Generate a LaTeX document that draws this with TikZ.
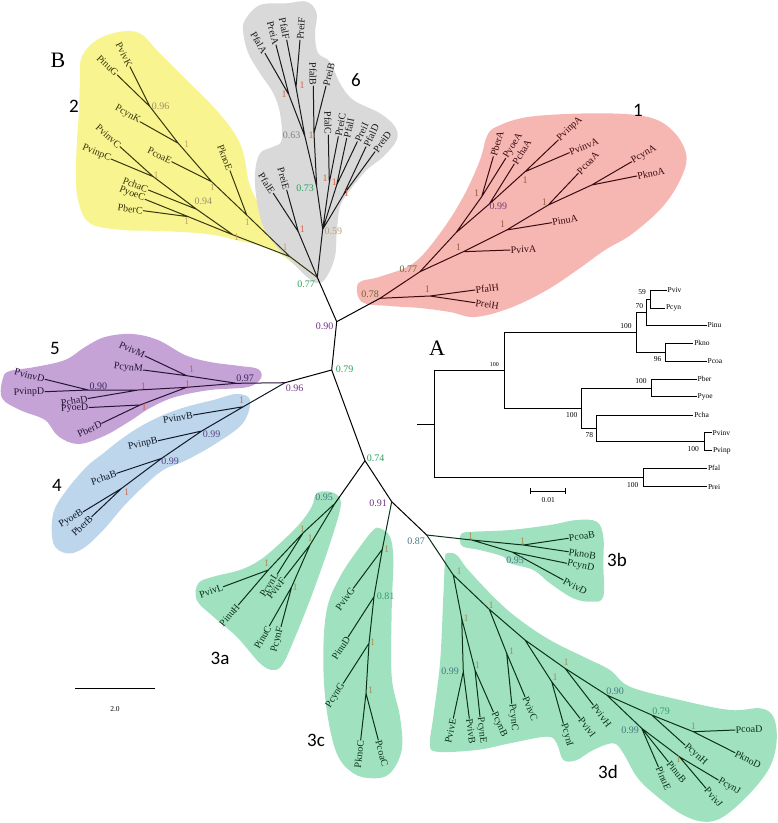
\documentclass[tikz,border=0pt]{standalone}
\usepackage{fontspec}
\setmainfont{Liberation Serif}
\newfontfamily\carl{Carlito}
\definecolor{yfill}{RGB}{248,245,145}
\definecolor{gfill}{RGB}{217,217,217}
\definecolor{rfill}{RGB}{246,183,179}
\definecolor{pfill}{RGB}{197,163,214}
\definecolor{bfill}{RGB}{189,214,236}
\definecolor{tfill}{RGB}{160,226,192}
\definecolor{ylc}{RGB}{55,55,12}
\definecolor{glc}{RGB}{25,25,25}
\definecolor{rlc}{RGB}{60,10,15}
\definecolor{plc}{RGB}{40,20,55}
\definecolor{blc}{RGB}{15,25,40}
\definecolor{tlc}{RGB}{10,50,25}
\definecolor{sgreen}{RGB}{40,160,90}
\definecolor{spurp}{RGB}{110,50,130}
\definecolor{sred1}{RGB}{150,95,65}
\definecolor{solive}{RGB}{105,100,50}
\definecolor{srpur}{RGB}{120,60,110}
\definecolor{sgray1}{RGB}{220,100,70}
\definecolor{sgray}{RGB}{130,130,130}
\definecolor{stan}{RGB}{180,160,110}
\definecolor{sy1}{RGB}{205,160,100}
\definecolor{syv}{RGB}{160,140,110}
\definecolor{sp1}{RGB}{210,90,70}
\definecolor{spd}{RGB}{65,35,95}
\definecolor{sb1}{RGB}{200,110,90}
\definecolor{sbv}{RGB}{90,70,130}
\definecolor{st1}{RGB}{170,140,80}
\definecolor{steal}{RGB}{70,120,130}
\definecolor{stg}{RGB}{55,155,115}
\newcommand\lf[3][]{%
  \pgfmathanglebetweenpoints{\pgfpointanchor{#2}{center}}{\pgfpointanchor{#3}{center}}%
  \let\lfang\pgfmathresult
  \pgfmathtruncatemacro\lfflip{((\lfang>90)&&(\lfang<270))?1:0}%
  \ifnum\lfflip=1
    \node[lbl,#1,rotate=\lfang+180,anchor=east] (#3-t) at (#3) {#3};%
  \else
    \node[lbl,#1,rotate=\lfang,anchor=west] (#3-t) at (#3) {#3};%
  \fi}
\tikzset{
  lbl/.style={font=\fontsize{10}{12}\selectfont, inner sep=0.5pt},
  sv/.style={font=\fontsize{10}{12}\selectfont, inner sep=0pt},
  grp/.style={font=\carl\fontsize{19}{22}\selectfont, inner sep=0pt},
  big/.style={font=\fontsize{22}{26}\selectfont, inner sep=0pt},
  ilbl/.style={font=\fontsize{7.5}{9}\selectfont, inner sep=0.8pt, anchor=west},
  ibs/.style={font=\fontsize{7.5}{9}\selectfont, inner sep=0pt},
  br/.style={line width=1pt, line cap=round},
  ibr/.style={line width=0.7pt},
}
\begin{document}
\begin{tikzpicture}[x=1pt,y=-1pt]
\useasboundingbox (0,0) rectangle (778,823);
% ---------------- blobs
\fill[yfill] plot[smooth cycle, tension=0.6] coordinates {(81.7,56.7) (96.7,40) (120,31.7) (140,33.3) (156.7,50) (173.3,66.7) (190,83.3) (213.3,106.7) (230,126.7) (240,143.3) (245,160) (248.3,180) (256.7,200) (273.3,220) (290,240) (303,256) (299,267) (273.3,250) (240,241) (206.7,234) (160,231) (123.3,230) (90,223.3) (78,200) (76,170) (77,140) (79,110) (80,80)};
\fill[gfill] plot[smooth cycle, tension=0.6] coordinates {(245,20) (260,5) (286.7,3.3) (306.7,1.7) (316.7,13.3) (315,33.3) (318,53) (330,61.7) (340,83.3) (353.3,100) (380,113.3) (395,126.7) (396.7,140) (383.3,156.7) (366.7,170) (350,190) (340,206.7) (336.7,233.3) (335,256.7) (326.7,276.7) (318.3,283.3) (306.7,276.7) (293.3,263.3) (276.7,246.7) (263.3,226.7) (256.7,200) (255,173.3) (260,153.3) (273.3,146.7) (281.7,140) (280,113.3) (273.3,93.3) (260,73.3) (248.3,53.3) (243.3,33.3)};
\fill[rfill] plot[smooth cycle, tension=0.6] coordinates {(358.3,283.3) (380,276.7) (413.3,263.3) (440,233.3) (463.3,196.7) (480,160) (486.7,136.7) (496.7,126.7) (530,116.7) (596.7,113.3) (646.7,116.7) (672,130) (686,153.3) (682,176) (663.3,206) (632,234) (605,250) (580,268) (547,290) (510,308) (475,317) (450,312) (420,308) (390,306) (362,302)};
\fill[pfill] plot[smooth cycle, tension=0.6] coordinates {(3,378) (2,398) (20,410) (45,420) (58,436) (78,444) (104,436) (130,421) (150,408) (175,397) (210,390) (248,387) (261,378) (258,369) (240,366) (210,362) (185,355) (158,340) (132,334) (105,337) (85,347) (65,360) (35,367) (10,371)};
\fill[bfill] plot[smooth cycle, tension=0.6] coordinates {(236.7,394) (250,400) (243,423) (216.7,443) (186.7,460) (163.3,470) (143.3,486.7) (123.3,506.7) (103.3,530) (83.3,548.3) (66.7,553.3) (53.3,543.3) (53.3,513.3) (66.7,490) (86.7,466.7) (103.3,453.3) (120,440) (140,426.7) (163.3,415) (186.7,406.7) (213.3,400)};
\fill[tfill] plot[smooth cycle, tension=0.6] coordinates {(316.7,493.3) (330,491.7) (340,498) (340,510) (333.3,533.3) (323.3,563.3) (310,600) (296.7,633.3) (283.3,663.3) (273.3,670) (260,663.3) (236.7,636.7) (213.3,616.7) (196.7,600) (198.3,583.3) (213.3,576.7) (240,570) (260,560) (280,543.3) (300,523.3) (311.7,506.7)};
\fill[tfill] plot[smooth cycle, tension=0.6] coordinates {(380,528.3) (390,536.7) (393.3,560) (391.7,610) (391.7,676.7) (400,716.7) (401.7,750) (390,773.3) (373.3,778.3) (353.3,773.3) (336.7,753.3) (326.7,710) (323.3,660) (326.7,610) (340,576.7) (360,546.7) (373.3,530)};
\fill[tfill] plot[smooth cycle, tension=0.6] coordinates {(460,540) (461.7,533.3) (473.3,531.7) (510,530) (550,525) (576.7,520) (596.7,521.7) (603.3,536.7) (603.3,563.3) (603.3,596.7) (591.7,601.7) (573.3,598.3) (550,583.3) (533.3,570) (510,563.3) (503.3,556.7) (480,550) (463.3,546.7)};
\fill[tfill] plot[smooth cycle, tension=0.6] coordinates {(446.7,553.3) (456.7,555) (468.3,570) (496.7,600) (520,620) (550,640) (583.3,656.7) (610,670) (630,686.7) (680,700) (730,710) (760,708.3) (773.3,716.7) (776.7,740) (770,766.7) (750,793.3) (723.3,816.7) (703.3,821.7) (680,813.3) (653.3,793.3) (636.7,776.7) (623.3,753.3) (613.3,743.3) (593.3,750) (576.7,760) (563.3,760) (556.7,743.3) (546.7,736.7) (510,743.3) (476.7,750) (436.7,751.7) (430,743.3) (433.3,716.7) (440,663.3) (443.3,596.7) (445,560)};
% ---------------- trunk
\coordinate (n090) at (336.7,321.7);
\coordinate (n077) at (317.3,277.3);
\coordinate (n078) at (380,298.3);
\coordinate (n079) at (331.7,370);
\coordinate (n096) at (285,382.7);
\coordinate (n074) at (365,460.7);
\coordinate (n095) at (335,503.3);
\coordinate (n091) at (391.7,501.7);
\coordinate (n087) at (426.7,535);
\draw[br] (n090)--(n077) (n090)--(n078) (n090)--(n079) (n079)--(n096) (n079)--(n074)
  (n074)--(n095) (n074)--(n091) (n091)--(n087);
\node[sv,spurp] (s090) at (324.5,326) {0.90};
\node[sv,sgreen] (s077) at (306,284) {0.77};
\node[sv,solive] (s078) at (370,294) {0.78};
\node[sv,sgreen] (s079) at (344.5,369) {0.79};
\node[sv,spurp] (s096) at (294.5,388.5) {0.96};
\node[sv,sgreen] (s074) at (375.5,458) {0.74};
\node[sv,spurp] (s091) at (378,503) {0.91};
% ---------------- group 2 (yellow)
\coordinate (yR) at (290,256.7);
\coordinate (yKno) at (246.7,215);
\coordinate (yCoa) at (211.7,181.7);
\coordinate (yCyn) at (178.3,143.3);
\coordinate (y096) at (150,106.7);
\coordinate (PvivK) at (130,66.7);
\coordinate (PinuG) at (117.3,75);
\coordinate (PcynK) at (140,121.7);
\coordinate (PcoaE) at (171.7,161.7);
\coordinate (PknoE) at (230,170.7);
\coordinate (yC) at (233.3,235);
\coordinate (yBer) at (188.3,216.7);
\coordinate (y094) at (196.7,209.3);
\coordinate (yVin) at (153.3,176.7);
\coordinate (PvinvC) at (120,146.7);
\coordinate (PvinpC) at (111,159);
\coordinate (PchaC) at (148.3,190);
\coordinate (PyoeC) at (145,199.3);
\coordinate (PberC) at (143.3,210.7);
\draw[br,ylc] (n077)--(yR) (yR)--(yKno) (yKno)--(yCoa) (yCoa)--(yCyn) (yCyn)--(y096)
  (y096)--(PvivK) (y096)--(PinuG) (yCyn)--(PcynK) (yCoa)--(PcoaE) (yKno)--(PknoE)
  (yR)--(yC) (yC)--(y094) (yC)--(yBer) (y094)--(yVin) (y094)--(PchaC)
  (yVin)--(PvinvC) (yVin)--(PvinpC) (yBer)--(PyoeC) (yBer)--(PberC);
\lf[ylc]{y096}{PvivK} \lf[ylc]{y096}{PinuG} \lf[ylc]{yCyn}{PcynK} \lf[ylc]{yCoa}{PcoaE}
\lf[ylc]{yKno}{PknoE} \lf[ylc]{yVin}{PvinvC} \lf[ylc]{yVin}{PvinpC} \lf[ylc]{y094}{PchaC}
\lf[ylc]{yBer}{PyoeC} \lf[ylc]{yBer}{PberC}
\node[sv,syv] (ys1) at (160.7,106) {0.96};
\node[sv,sy1] (ys2) at (186.7,144) {1};
\node[sv,sy1] (ys3) at (212.3,186.7) {1};
\node[sv,sy1] (ys4) at (247.3,221.7) {1};
\node[sv,sy1] (ys5) at (156,175) {1};
\node[sv,syv] (ys6) at (203.3,201.7) {0.94};
\node[sv,sy1] (ys7) at (186.7,220.7) {1};
\node[sv,sy1] (ys8) at (236.7,237.3) {1};
\node[sv,sy1] (ys9) at (285,247.3) {1};
% ---------------- group 6 (gray)
\coordinate (gE) at (298.3,231.7);
\coordinate (g059) at (322.7,229.3);
\coordinate (g073) at (316.7,186.7);
\coordinate (g063) at (305,136.7);
\coordinate (gA) at (289,95);
\coordinate (gF) at (296,87.3);
\coordinate (gB) at (314,133.3);
\coordinate (gC) at (329.3,182.7);
\coordinate (gI) at (336.7,185);
\coordinate (gD) at (343.3,195);
\coordinate (PfalA) at (265,53.3);
\coordinate (PreiA) at (276,45);
\coordinate (PfalF) at (286.7,40);
\coordinate (PreiF) at (300,40);
\coordinate (PfalB) at (313.3,86);
\coordinate (PreiB) at (326,86);
\coordinate (PfalC) at (328.3,135);
\coordinate (PreiC) at (338.3,136.7);
\coordinate (PfalI) at (346.7,138.3);
\coordinate (PreiI) at (357.3,141.7);
\coordinate (PfalD) at (366,146.7);
\coordinate (PreiD) at (375,151.7);
\coordinate (PfalE) at (273.3,193.3);
\coordinate (PreiE) at (286.7,190);
\draw[br,glc] (n077)--(gE) (n077)--(g059) (gE)--(PfalE) (gE)--(PreiE)
  (g059)--(g073) (g073)--(g063) (g073)--(gB) (g063)--(gA) (g063)--(gF)
  (gA)--(PfalA) (gA)--(PreiA) (gF)--(PfalF) (gF)--(PreiF) (gB)--(PfalB) (gB)--(PreiB)
  (g059)--(gC) (g059)--(gI) (g059)--(gD) (gC)--(PfalC) (gC)--(PreiC)
  (gI)--(PfalI) (gI)--(PreiI) (gD)--(PfalD) (gD)--(PreiD);
\lf[glc]{gA}{PfalA} \lf[glc]{gA}{PreiA} \lf[glc]{gF}{PfalF} \lf[glc]{gF}{PreiF}
\lf[glc]{gB}{PfalB} \lf[glc]{gB}{PreiB} \lf[glc]{gC}{PfalC} \lf[glc]{gC}{PreiC}
\lf[glc]{gI}{PfalI} \lf[glc]{gI}{PreiI} \lf[glc]{gD}{PfalD} \lf[glc]{gD}{PreiD}
\lf[glc]{gE}{PfalE} \lf[glc]{gE}{PreiE}
\node[sv,sgray1] (gs1) at (284,94.3) {1};
\node[sv,sgray1] (gs2) at (302,85) {1};
\node[sv,sgray] (gs3) at (291.7,135) {0.63};
\node[sv,sgray1] (gs4) at (311,135) {1};
\node[sv,sgreen] (gs5) at (305,188.3) {0.73};
\node[sv,stan] (gs6) at (333.3,231.7) {0.59};
\node[sv,sgray1] (gs7) at (325,178.3) {1};
\node[sv,sgray1] (gs8) at (334.3,181.7) {1};
\node[sv,sgray1] (gs9) at (346.7,192.7) {1};
\node[sv,sgray1] (gs10) at (302.3,229.3) {1};
% ---------------- group 1 (red)
\coordinate (rH) at (430,296);
\coordinate (PfalH) at (475,290);
\coordinate (PreiH) at (475,302.7);
\coordinate (r077) at (420,271.7);
\coordinate (rViv) at (463.3,251.7);
\coordinate (PvivA) at (510,250);
\coordinate (rInu) at (506.7,230);
\coordinate (PinuA) at (551.7,222.7);
\coordinate (rCoa) at (548.3,205);
\coordinate (PcoaA) at (578.3,173.3);
\coordinate (rCK) at (591.7,185);
\coordinate (PcynA) at (631.7,161.7);
\coordinate (PknoA) at (636.7,176);
\coordinate (rJ) at (456,232.7);
\coordinate (rBY) at (481.7,196.7);
\coordinate (PberA) at (493.3,156.7);
\coordinate (PyoeA) at (505.7,158.3);
\coordinate (r099) at (489.3,204);
\coordinate (PchaA) at (514.3,164);
\coordinate (rVin) at (525,171.7);
\coordinate (PvinpA) at (558.3,140);
\coordinate (PvinvA) at (569.3,152.7);
\draw[br,rlc] (n078)--(rH) (rH)--(PfalH) (rH)--(PreiH) (n078)--(r077)
  (r077)--(rViv) (rViv)--(PvivA) (rViv)--(rInu) (rInu)--(PinuA) (rInu)--(rCoa)
  (rCoa)--(PcoaA) (rCoa)--(rCK) (rCK)--(PcynA) (rCK)--(PknoA)
  (r077)--(rJ) (rJ)--(rBY) (rJ)--(r099) (rBY)--(PberA) (rBY)--(PyoeA)
  (r099)--(PchaA) (r099)--(rVin) (rVin)--(PvinpA) (rVin)--(PvinvA);
\lf[rlc]{rH}{PfalH} \lf[rlc]{rH}{PreiH} \lf[rlc]{rViv}{PvivA} \lf[rlc]{rInu}{PinuA}
\lf[rlc]{rCoa}{PcoaA} \lf[rlc]{rCK}{PcynA} \lf[rlc]{rCK}{PknoA} \lf[rlc]{rBY}{PberA}
\lf[rlc]{rBY}{PyoeA} \lf[rlc]{r099}{PchaA} \lf[rlc]{rVin}{PvinpA} \lf[rlc]{rVin}{PvinvA}
\node[sv,sred1] (rs1) at (427.3,289.3) {1};
\node[sv,solive] (rs2) at (408.3,269.3) {0.77};
\node[sv,sred1] (rs3) at (458.3,247.3) {1};
\node[sv,sred1] (rs4) at (502.7,224) {1};
\node[sv,sred1] (rs5) at (544.3,201.7) {1};
\node[sv,sred1] (rs6) at (476.7,192.7) {1};
\node[sv,srpur] (rs7) at (498.3,206.7) {0.99};
\node[sv,sred1] (rs8) at (525,180) {1};
% ---------------- group 5 (purple)
\coordinate (p097) at (236.7,383.3);
\coordinate (pM) at (186.7,375.7);
\coordinate (PvivM) at (145,356);
\coordinate (PcynM) at (143.3,370);
\coordinate (pR1) at (186.7,387.3);
\coordinate (pCha) at (138.3,390);
\coordinate (PchaD) at (88,398.5);
\coordinate (p090) at (88.3,390);
\coordinate (PvinvD) at (45,379.3);
\coordinate (PvinpD) at (45,391.7);
\coordinate (pBY) at (140,405);
\coordinate (PyoeD) at (89,407.5);
\coordinate (PberD) at (101.7,423.3);
\draw[br,plc] (n096)--(p097) (p097)--(pM) (p097)--(pR1) (pM)--(PvivM) (pM)--(PcynM)
  (pR1)--(pCha) (pR1)--(pBY) (pCha)--(p090) (pCha)--(PchaD) (p090)--(PvinvD)
  (p090)--(PvinpD) (pBY)--(PyoeD) (pBY)--(PberD);
\lf[plc]{pM}{PvivM} \lf[plc]{pM}{PcynM} \lf[plc]{pCha}{PchaD} \lf[plc]{p090}{PvinvD}
\lf[plc]{p090}{PvinpD} \lf[plc]{pBY}{PyoeD} \lf[plc]{pBY}{PberD}
\node[sv,spd] (ps1) at (245,378.7) {0.97};
\node[sv,sp1] (ps2) at (191.7,369.3) {1};
\node[sv,sp1] (ps3) at (187.7,384) {1};
\node[sv,sp1] (ps4) at (143.3,386) {1};
\node[sv,spd] (ps5) at (98.3,386.7) {0.90};
\node[sv,sp1] (ps6) at (144,406.7) {1};
% ---------------- group 4 (blue)
\coordinate (b1) at (243.3,406.7);
\coordinate (PvinvB) at (193.3,415);
\coordinate (b099a) at (201.7,431);
\coordinate (PvinpB) at (158.3,440.7);
\coordinate (b099b) at (161.7,458.3);
\coordinate (PchaB) at (116.7,473.3);
\coordinate (bYB) at (121.7,488.3);
\coordinate (PyoeB) at (83.3,511.7);
\coordinate (PberB) at (91.7,516.7);
\draw[br,blc] (n096)--(b1) (b1)--(PvinvB) (b1)--(b099a) (b099a)--(PvinpB) (b099a)--(b099b)
  (b099b)--(PchaB) (b099b)--(bYB) (bYB)--(PyoeB) (bYB)--(PberB);
\lf[blc]{b1}{PvinvB} \lf[blc]{b099a}{PvinpB} \lf[blc]{b099b}{PchaB}
\lf[blc]{bYB}{PyoeB} \lf[blc]{bYB}{PberB}
\node[sv,sb1] (bs1) at (241.7,400) {1};
\node[sv,sbv] (bs2) at (211.7,434.3) {0.99};
\node[sv,sbv] (bs3) at (170,461.7) {0.99};
\node[sv,sb1] (bs4) at (126.7,491.7) {1};
% ---------------- group 3a
\coordinate (aL) at (303.3,532.7);
\coordinate (aLH) at (268.3,570);
\coordinate (PvivL) at (223.3,586.7);
\coordinate (PinuH) at (238.3,605);
\coordinate (PcynL) at (277.3,574);
\coordinate (aF) at (310,545);
\coordinate (PvivF) at (284,578.3);
\coordinate (aCF) at (291.7,586.7);
\coordinate (PinuC) at (269.3,626);
\coordinate (PcynF) at (281,626.7);
\draw[br,tlc] (n095)--(aL) (n095)--(aF) (aL)--(aLH) (aL)--(PcynL) (aLH)--(PvivL)
  (aLH)--(PinuH) (aF)--(PvivF) (aF)--(aCF) (aCF)--(PinuC) (aCF)--(PcynF);
\lf[tlc]{aLH}{PvivL} \lf[tlc]{aLH}{PinuH} \lf[tlc]{aL}{PcynL} \lf[tlc]{aF}{PvivF}
\lf[tlc]{aCF}{PinuC} \lf[tlc]{aCF}{PcynF}
\node[sv,steal] (as0) at (324,497.5) {0.95};
\node[sv,st1] (as1) at (302.3,529.3) {1};
\node[sv,st1] (as2) at (310,538.3) {1};
\node[sv,st1] (as3) at (266.7,563.3) {1};
\node[sv,st1] (as4) at (295,586.7) {1};
% ---------------- group 3c
\coordinate (c1) at (382.3,549.3);
\coordinate (PvivG) at (353.3,588.3);
\coordinate (c2) at (374,596.7);
\coordinate (PinuD) at (348.3,636.7);
\coordinate (c3) at (369,643.3);
\coordinate (PcynG) at (343.3,683.3);
\coordinate (c4) at (366,693.3);
\coordinate (PknoC) at (360.7,740);
\coordinate (PcoaC) at (378.3,740);
\draw[br,tlc] (n091)--(c1) (c1)--(PvivG) (c1)--(c2) (c2)--(PinuD) (c2)--(c3)
  (c3)--(PcynG) (c3)--(c4) (c4)--(PknoC) (c4)--(PcoaC);
\lf[tlc]{c1}{PvivG} \lf[tlc]{c2}{PinuD} \lf[tlc]{c3}{PcynG} \lf[tlc]{c4}{PknoC} \lf[tlc]{c4}{PcoaC}
\node[sv,st1] (cs1) at (386.7,549.3) {1};
\node[sv,stg] (cs2) at (385.7,596) {0.81};
\node[sv,st1] (cs3) at (372.7,642.3) {1};
\node[sv,st1] (cs4) at (370.7,690) {1};
% ---------------- group 3b
\coordinate (bb0) at (471.7,540);
\coordinate (bb1) at (523.3,545);
\coordinate (PcoaB) at (568.3,538.3);
\coordinate (PknoB) at (568.3,551.7);
\coordinate (bb2) at (512,552);
\coordinate (PcynD) at (566.7,563.3);
\coordinate (PvivD) at (563.3,580);
\draw[br,tlc] (n087)--(bb0) (bb0)--(bb1) (bb0)--(bb2) (bb1)--(PcoaB) (bb1)--(PknoB)
  (bb2)--(PcynD) (bb2)--(PvivD);
\lf[tlc]{bb1}{PcoaB} \lf[tlc]{bb1}{PknoB} \lf[tlc]{bb2}{PcynD} \lf[tlc]{bb2}{PvivD}
\node[sv,steal] (bbs0) at (416,541.5) {0.87};
\node[sv,st1] (bbs1) at (470.7,536) {1};
\node[sv,st1] (bbs2) at (522.7,540.7) {1};
\node[sv,steal] (bbs3) at (515,560) {0.95};
% ---------------- group 3d
\coordinate (d0) at (453.3,575);
\coordinate (dx) at (461.7,618.3);
\coordinate (d099) at (463.3,671.7);
\coordinate (PvivE) at (453.3,718.3);
\coordinate (PvivB) at (469.3,718.3);
\coordinate (dEB) at (475,670);
\coordinate (PcynE) at (480,716.7);
\coordinate (PcynB) at (493.3,711.7);
\coordinate (d2) at (489.3,609.3);
\coordinate (dC) at (506.7,653.3);
\coordinate (PcynC) at (511.7,703.3);
\coordinate (PvivC) at (525,696.7);
\coordinate (d3) at (525,640);
\coordinate (dI) at (551.7,681.7);
\coordinate (PcynI) at (563.3,723.3);
\coordinate (PvivI) at (580,718.3);
\coordinate (d4) at (565,668.3);
\coordinate (PvivH) at (593.3,705);
\coordinate (d090) at (606.7,695);
\coordinate (d079) at (651.7,715);
\coordinate (PcynH) at (685,745);
\coordinate (dK) at (693.3,731.7);
\coordinate (PcoaD) at (735,730);
\coordinate (PknoD) at (735,752.7);
\coordinate (d099b) at (641.7,728.3);
\coordinate (PinuE) at (658.3,766.7);
\coordinate (PinuB) at (668.3,761.7);
\coordinate (dJ) at (679.3,756.7);
\coordinate (PcynJ) at (718.3,780);
\coordinate (PvivJ) at (706,788.3);
\draw[br,tlc] (n087)--(d0) (d0)--(dx) (dx)--(d099) (dx)--(dEB) (d099)--(PvivE) (d099)--(PvivB)
  (dEB)--(PcynE) (dEB)--(PcynB) (d0)--(d2) (d2)--(dC) (dC)--(PcynC) (dC)--(PvivC)
  (d2)--(d3) (d3)--(dI) (dI)--(PcynI) (dI)--(PvivI) (d3)--(d4) (d4)--(PvivH)
  (d4)--(d090) (d090)--(d079) (d079)--(PcynH) (d079)--(dK) (dK)--(PcoaD) (dK)--(PknoD)
  (d090)--(d099b) (d099b)--(PinuE) (d099b)--(PinuB) (d099b)--(dJ) (dJ)--(PcynJ) (dJ)--(PvivJ);
\lf[tlc]{d099}{PvivE} \lf[tlc]{d099}{PvivB} \lf[tlc]{dEB}{PcynE} \lf[tlc]{dEB}{PcynB}
\lf[tlc]{dC}{PcynC} \lf[tlc]{dC}{PvivC} \lf[tlc]{dI}{PcynI} \lf[tlc]{dI}{PvivI}
\lf[tlc]{d4}{PvivH} \lf[tlc]{d079}{PcynH} \lf[tlc]{dK}{PcoaD} \lf[tlc]{dK}{PknoD}
\lf[tlc]{d099b}{PinuE} \lf[tlc]{d099b}{PinuB} \lf[tlc]{dJ}{PcynJ} \lf[tlc]{dJ}{PvivJ}
\node[sv,st1] (ds1) at (459,570.7) {1};
\node[sv,st1] (ds2) at (466,618.3) {1};
\node[sv,steal] (ds3) at (450,671) {0.99};
\node[sv,st1] (ds4) at (477.3,665) {1};
\node[sv,st1] (ds5) at (491,605) {1};
\node[sv,st1] (ds6) at (511.7,650.7) {1};
\node[sv,st1] (ds7) at (555,676.7) {1};
\node[sv,st1] (ds8) at (566,661.7) {1};
\node[sv,steal] (ds9) at (615,691) {0.90};
\node[sv,stg] (ds10) at (661,711) {0.79};
\node[sv,st1] (ds11) at (693.3,725.7) {1};
\node[sv,steal] (ds12) at (630,730) {0.99};
\node[sv,st1] (ds13) at (678.3,759.3) {1};
% ---------------- group labels
\node[big] (labB) at (58,60) {B};
\node[big] (labA) at (437,348) {A};
\node[grp] (g1) at (638,110) {1};
\node[grp] (g2) at (74,106) {2};
\node[grp] (g6) at (356,80) {6};
\node[grp] (g5) at (55,348) {5};
\node[grp] (g4) at (57,485) {4};
\node[grp] (g3a) at (220,658) {3a};
\node[grp] (g3c) at (316,740) {3c};
\node[grp] (g3b) at (617,560) {3b};
\node[grp] (g3d) at (608,772) {3d};
% ---------------- main scale bar
\coordinate (sbL) at (75,688);
\coordinate (sbR) at (155,688);
\draw[line width=0.7pt] (sbL)--(sbR);
\node[ibs] (sbT) at (115,709) {2.0};
% ---------------- inset tree A
\coordinate (iR0) at (417,424);
\coordinate (iR) at (434,424);
\coordinate (iX1) at (504,370.7);
\coordinate (iX2) at (636.7,332.7);
\coordinate (iX3) at (646.7,312);
\coordinate (iX4) at (650,299.3);
\coordinate (iX5) at (665,352.3);
\coordinate (iX6) at (581.7,408.3);
\coordinate (iX7) at (651.7,388);
\coordinate (iX8) at (596,428.3);
\coordinate (iX9) at (704,441.7);
\coordinate (iX10) at (643.3,477.7);
\coordinate (iPviv) at (666.7,290);
\coordinate (iPcyn) at (665,308.3);
\coordinate (iPinu) at (706.7,325.3);
\coordinate (iPkno) at (693.3,343.3);
\coordinate (iPcoa) at (706.7,361);
\coordinate (iPber) at (696.7,379.3);
\coordinate (iPyoe) at (696.7,396.7);
\coordinate (iPcha) at (693.3,415);
\coordinate (iPvinv) at (711.7,432.7);
\coordinate (iPvinp) at (712,450.7);
\coordinate (iPfal) at (707,468.3);
\coordinate (iPrei) at (707,486.7);
\draw[ibr] (iR0)--(iR) (iR)|-(iX1) (iR)|-(iX10) (iX1)|-(iX2) (iX1)|-(iX6)
  (iX2)|-(iX3) (iX2)|-(iX5) (iX3)|-(iX4) (iX3)|-(iPinu) (iX4)|-(iPviv) (iX4)|-(iPcyn)
  (iX5)|-(iPkno) (iX5)|-(iPcoa) (iX6)|-(iX7) (iX6)|-(iX8) (iX7)|-(iPber) (iX7)|-(iPyoe)
  (iX8)|-(iPcha) (iX8)|-(iX9) (iX9)|-(iPvinv) (iX9)|-(iPvinp) (iX10)|-(iPfal) (iX10)|-(iPrei);
\node[ilbl] (tPviv) at (iPviv) {Pviv};
\node[ilbl] (tPcyn) at (iPcyn) {Pcyn};
\node[ilbl] (tPinu) at (iPinu) {Pinu};
\node[ilbl] (tPkno) at (iPkno) {Pkno};
\node[ilbl] (tPcoa) at (iPcoa) {Pcoa};
\node[ilbl] (tPber) at (iPber) {Pber};
\node[ilbl] (tPyoe) at (iPyoe) {Pyoe};
\node[ilbl] (tPcha) at (iPcha) {Pcha};
\node[ilbl] (tPvinv) at (iPvinv) {Pvinv};
\node[ilbl] (tPvinp) at (iPvinp) {Pvinp};
\node[ilbl] (tPfal) at (iPfal) {Pfal};
\node[ilbl] (tPrei) at (iPrei) {Prei};
\node[ibs,font=\fontsize{6}{7}\selectfont] (ib1) at (494.3,364.3) {100};
\node[ibs] (ib2) at (626,325.7) {100};
\node[ibs] (ib3) at (639.3,305.7) {70};
\node[ibs] (ib4) at (642,292) {59};
\node[ibs] (ib5) at (657.7,359.3) {96};
\node[ibs] (ib6) at (571.7,415) {100};
\node[ibs] (ib7) at (641,381) {100};
\node[ibs] (ib8) at (589.3,435) {78};
\node[ibs] (ib9) at (693.3,449.3) {100};
\node[ibs] (ib10) at (632.7,485) {100};
\coordinate (isL) at (530,491);
\coordinate (isR) at (565,491);
\draw[ibr] (isL)--(isR) ([yshift=-3pt]isL)--([yshift=3pt]isL) ([yshift=-3pt]isR)--([yshift=3pt]isR);
\node[ibs] (isT) at (548.3,500.5) {0.01};
\end{tikzpicture}
\end{document}
